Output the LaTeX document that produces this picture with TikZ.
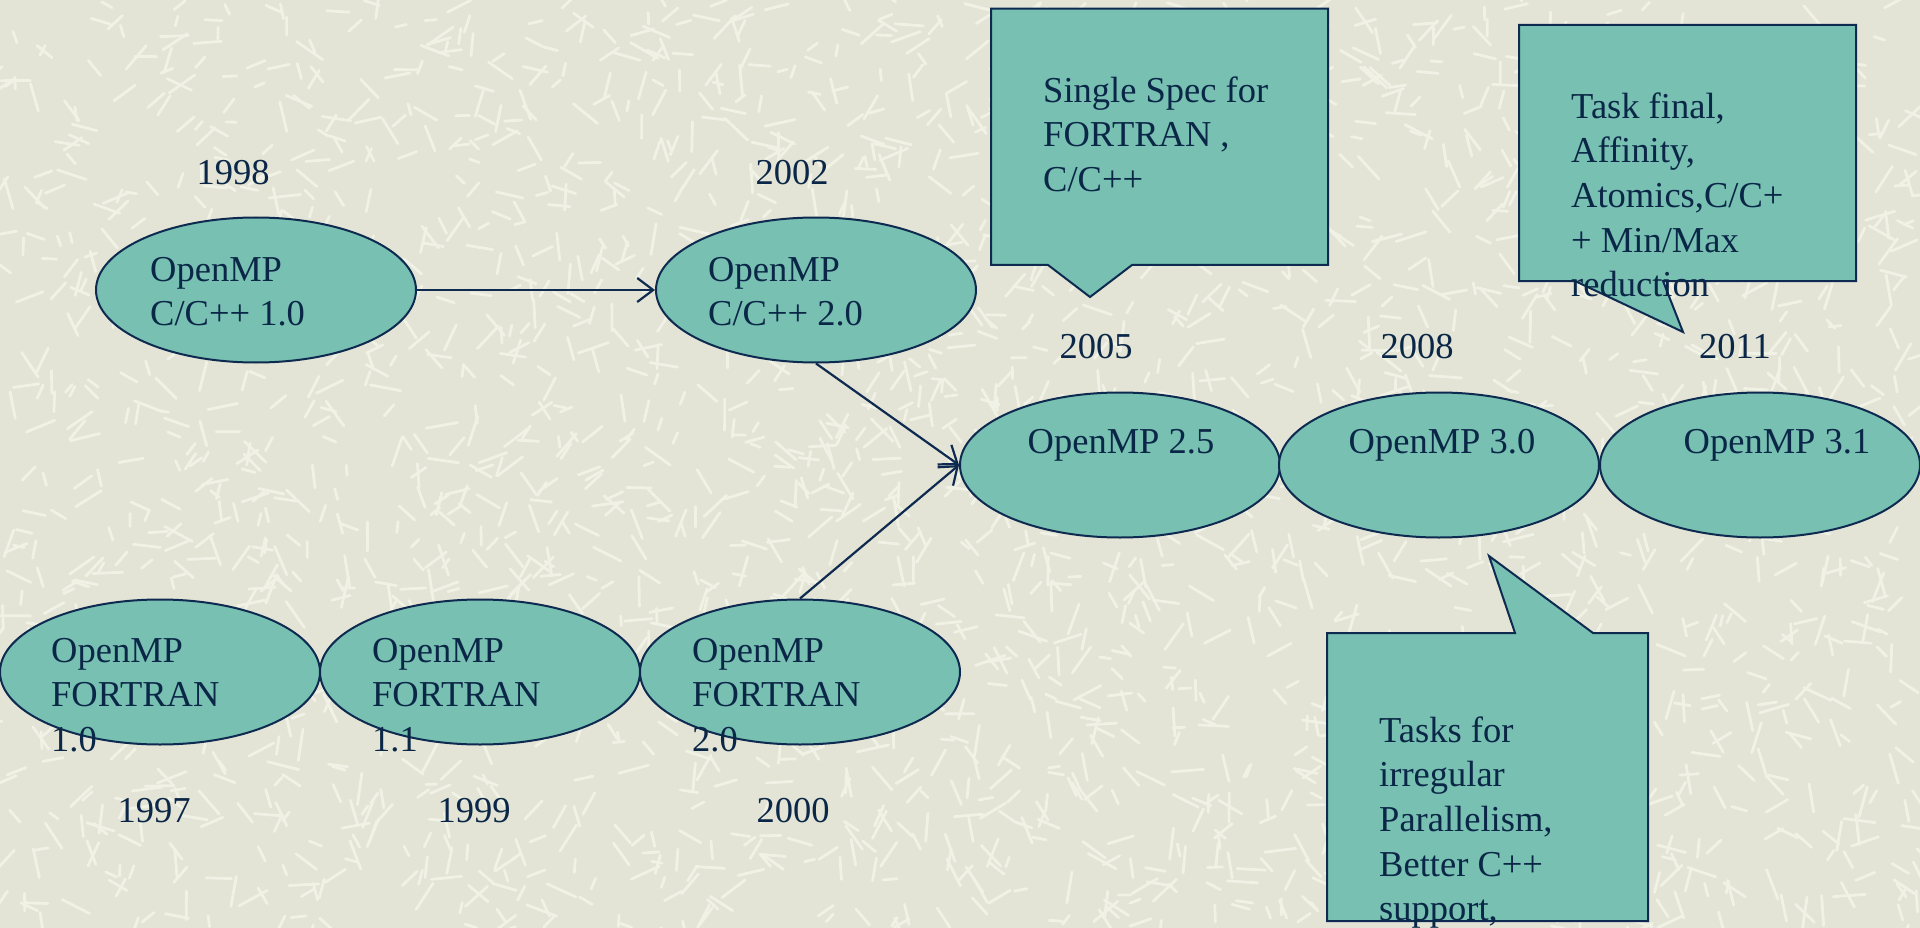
\documentclass[tikz,border=0pt]{standalone}
\usepackage{fontspec}
\setmainfont{Liberation Serif}
\usetikzlibrary{shapes.geometric,arrows.meta}
\definecolor{bgc}{HTML}{E3E4D5}
\definecolor{streak}{HTML}{F1F2E6}
\definecolor{tealfill}{HTML}{77C0B2}
\definecolor{navy}{HTML}{0E2A50}
\definecolor{txt}{HTML}{0B2747}
\begin{document}
\begin{tikzpicture}[x=1pt,y=-1pt,
  ver/.style={ellipse,draw=navy,fill=tealfill,line width=2pt,minimum width=320pt,minimum height=145pt,inner sep=0pt},
  lbl/.style={font=\fontsize{36.5}{44.6}\selectfont,text=txt,inner sep=0pt,align=left},
  yr/.style={lbl,anchor=base},
  blk/.style={lbl,anchor=north west},
  link/.style={draw=navy,line width=2.2pt,-{Straight Barb[length=16pt,width=24pt]}},
  callout/.style={draw=navy,fill=tealfill,line width=2pt,line join=miter},
  texture/.style={draw=streak,line width=2.8pt,line cap=round}
]
\useasboundingbox (0,0) rectangle (1920,928);
\clip (0,0) rectangle (1920,928);
\fill[bgc] (0,0) rectangle (1920,928);
\pgfmathsetseed{7}
\foreach \k in {1,...,2600}{
  \pgfmathsetmacro{\px}{rnd*1920}
  \pgfmathsetmacro{\py}{rnd*928}
  \pgfmathsetmacro{\pa}{rnd*360}
  \pgfmathsetmacro{\pl}{10+rnd*22}
  \draw[texture] (\px,\py) -- ++(\pa:\pl);
}

% callouts
\draw[callout] (991,8.6) -- (1328,8.6) -- (1328,265) -- (1132,265) -- (1090,297) -- (1048,265) -- (991,265) -- cycle;
\draw[callout] (1519,25) -- (1856,25) -- (1856,281) -- (1663,281) -- (1683,332) -- (1575,281) -- (1519,281) -- cycle;
\draw[callout] (1327,633) -- (1515,633) -- (1489,556) -- (1593,633) -- (1648,633) -- (1648,921) -- (1327,921) -- cycle;

% ellipses
\node[ver] (e1) at (256,290) {};
\node[ver] (e2) at (816,290) {};
\node[ver] (e3) at (1120,465) {};
\node[ver] (e4) at (1439,465) {};
\node[ver] (e5) at (1760,465) {};
\node[ver] (e6) at (160,672) {};
\node[ver] (e7) at (480,672) {};
\node[ver] (e8) at (800,672) {};

% connectors
\draw[link] (e1.east) -- (e2.west);
\draw[link] (e2.south) -- (e3.west);
\draw[link] (e8.north) -- (e3.west);

% ellipse texts
\node[blk] (t1) at (150,251) {\rule{0pt}{30pt}OpenMP\\C/C++ 1.0};
\node[blk] (t2) at (708,251) {\rule{0pt}{30pt}OpenMP\\C/C++ 2.0};
\node[yr] (t3) at (1121,453) {OpenMP 2.5};
\node[yr] (t4) at (1442,453) {OpenMP 3.0};
\node[yr] (t5) at (1777,453) {OpenMP 3.1};
\node[blk] (t6) at (51,632) {\rule{0pt}{30pt}OpenMP\\FORTRAN\\1.0};
\node[blk] (t7) at (372,632) {\rule{0pt}{30pt}OpenMP\\FORTRAN\\1.1};
\node[blk] (t8) at (692,632) {\rule{0pt}{30pt}OpenMP\\FORTRAN\\2.0};

% years
\node[yr] (y1998) at (233,185) {1998};
\node[yr] (y2002) at (792,185) {2002};
\node[yr] (y2005) at (1096,358) {2005};
\node[yr] (y2008) at (1417,358) {2008};
\node[yr] (y2011) at (1735,358) {2011};
\node[yr] (y1997) at (154,822) {1997};
\node[yr] (y1999) at (474,822) {1999};
\node[yr] (y2000) at (793,822) {2000};

% callout texts
\node[blk] (ca) at (1043,72) {\rule{0pt}{30pt}Single Spec for\\FORTRAN ,\\C/C++};
\node[blk] (cb) at (1571,88) {\rule{0pt}{30pt}Task final,\\Affinity,\\Atomics,C/C+\\+ Min/Max\\reduction};
\node[blk] (cc) at (1379,712) {\rule{0pt}{30pt}Tasks for\\irregular\\Parallelism,\\Better C++\\support,};
\end{tikzpicture}
\end{document}
